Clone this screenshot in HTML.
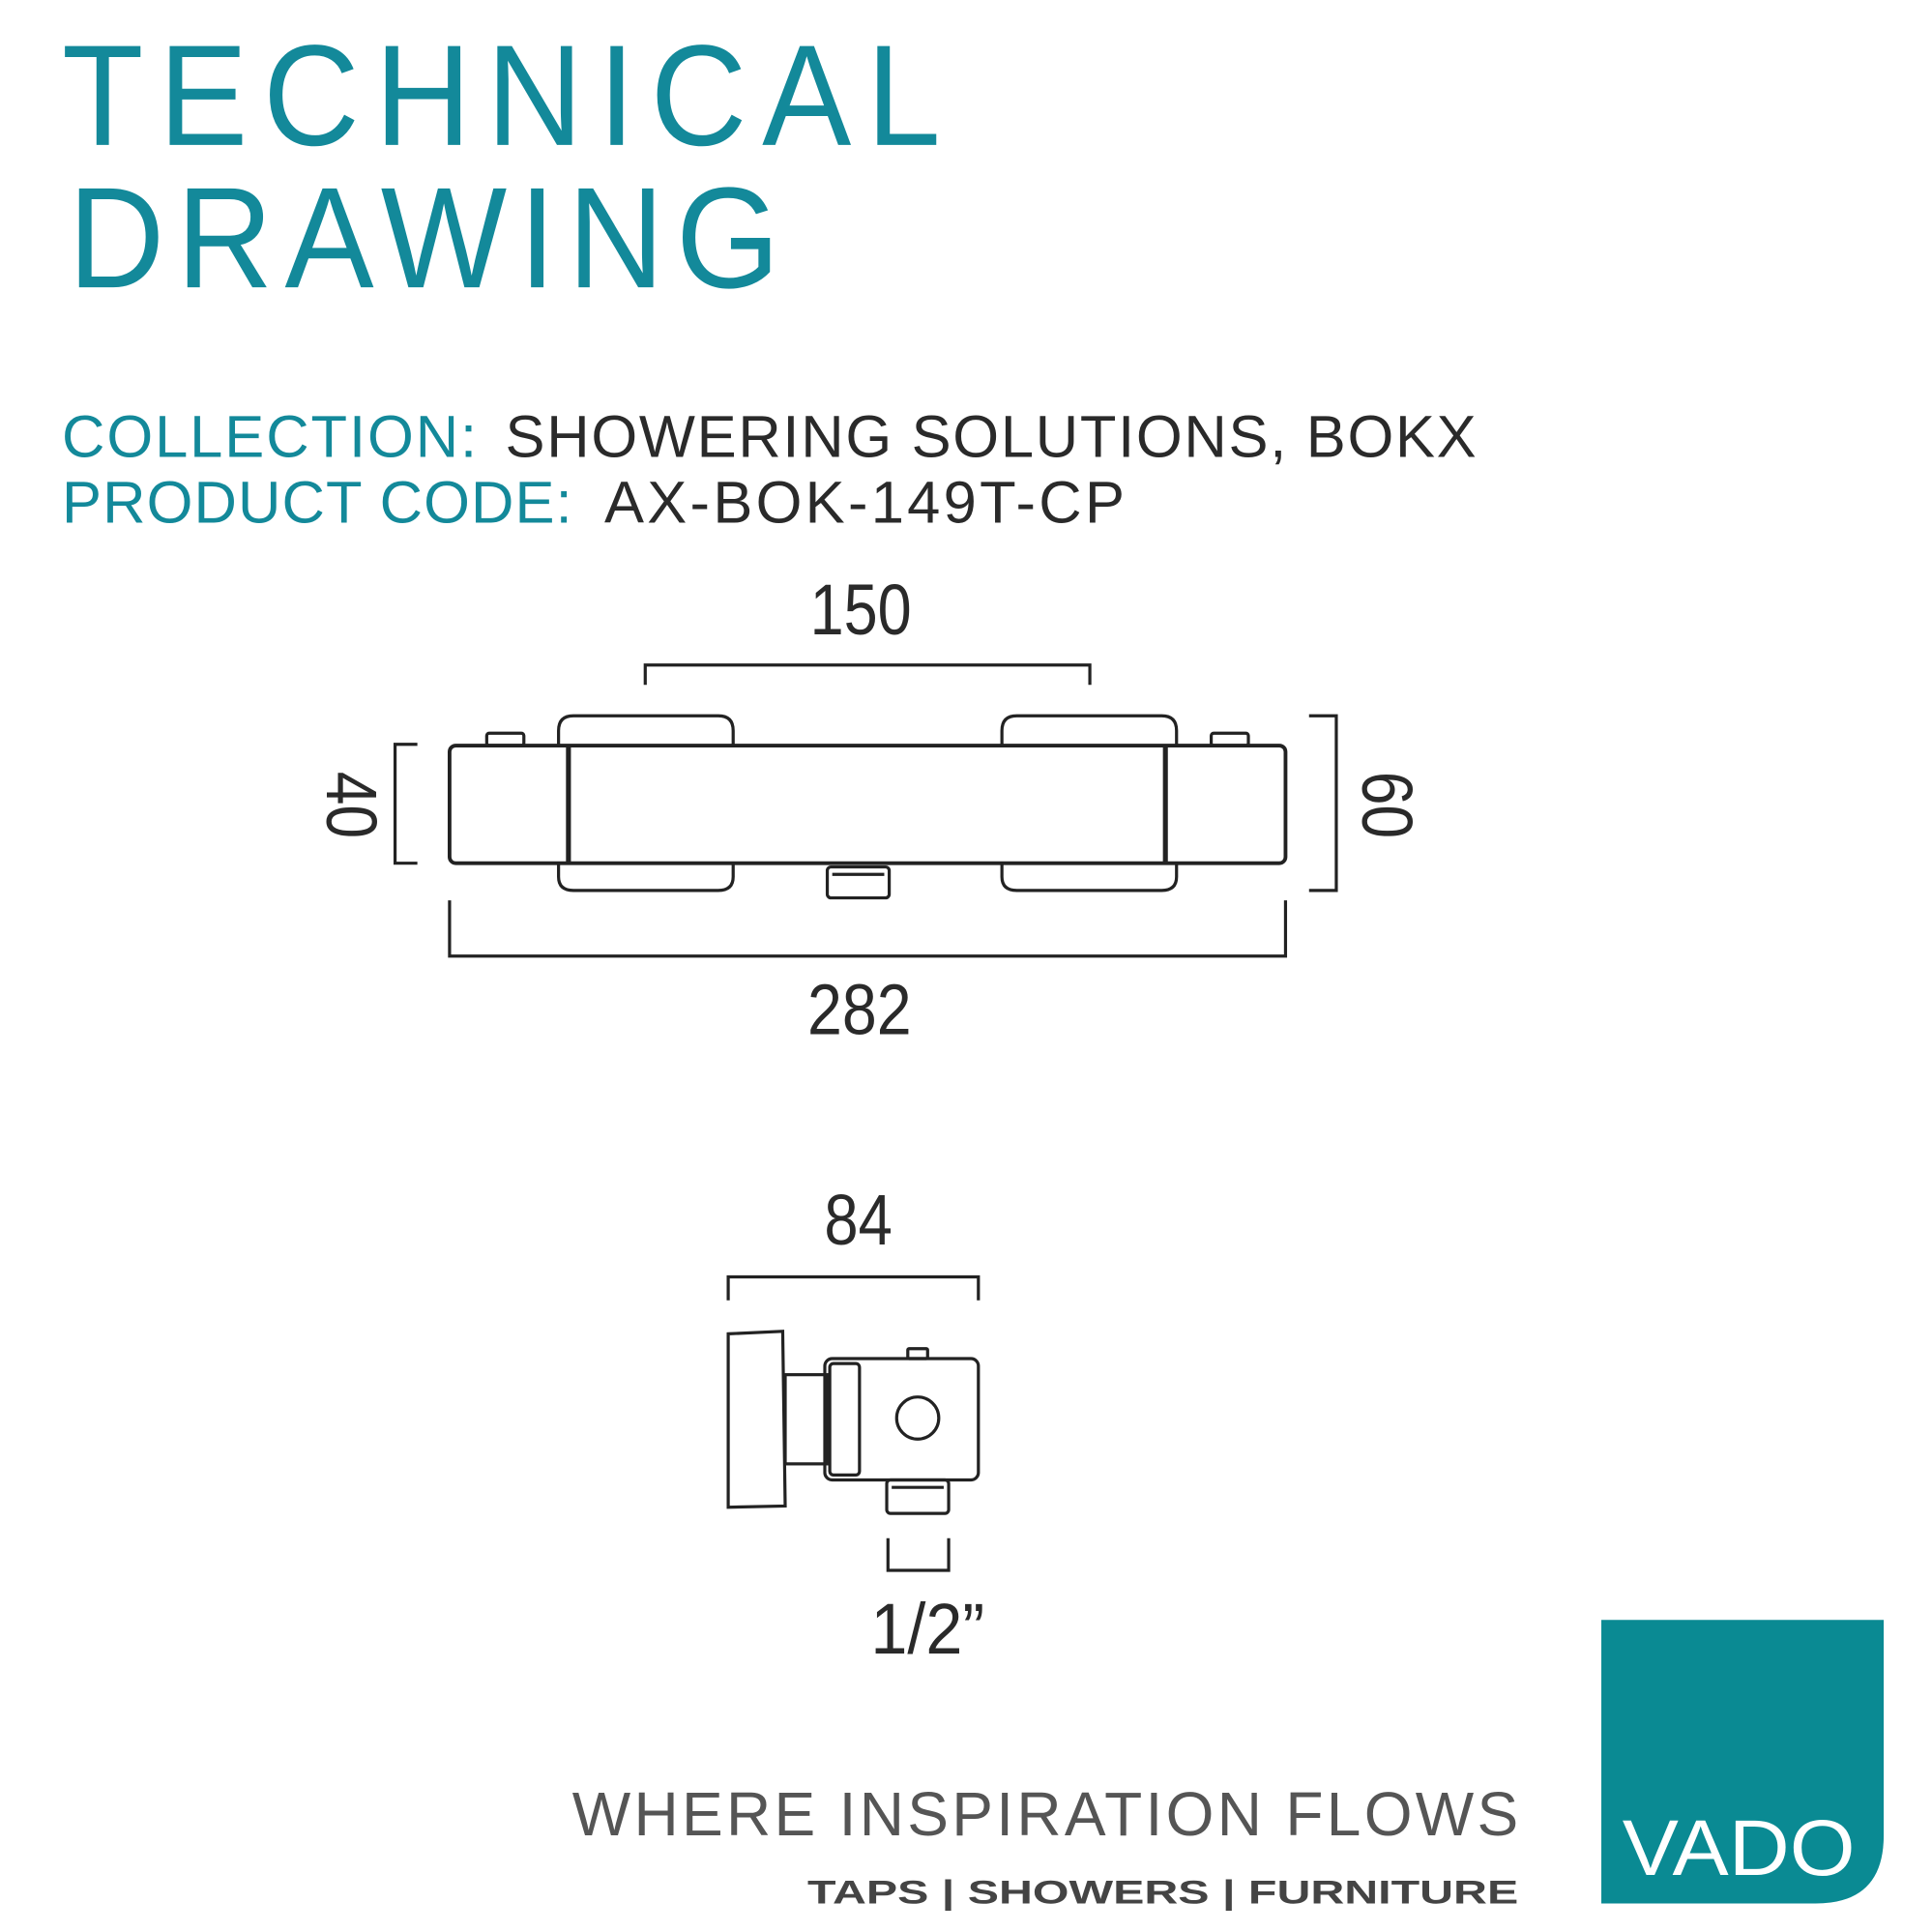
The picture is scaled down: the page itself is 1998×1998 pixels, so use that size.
<!DOCTYPE html>
<html><head><meta charset="utf-8"><style>
html,body{margin:0;padding:0;background:#fff;}
svg{display:block;}
text{font-family:"Liberation Sans",sans-serif;}
</style></head><body>
<svg width="1998" height="1998" viewBox="0 0 1560 1560" xmlns="http://www.w3.org/2000/svg">
<rect width="1560" height="1560" fill="#fff"/>
<g fill="#13899a">
<text x="50" y="117" font-size="116" textLength="763" lengthAdjust="spacing" transform="translate(50,0) scale(0.93,1) translate(-50,0)">TECHNICAL</text>
<text x="55" y="232" font-size="116" textLength="618" lengthAdjust="spacing" transform="translate(55,0) scale(0.93,1) translate(-55,0)">DRAWING</text>
<text x="50" y="369" font-size="48" textLength="335" lengthAdjust="spacing">COLLECTION:</text>
<text x="50" y="422" font-size="48" textLength="412" lengthAdjust="spacing">PRODUCT CODE:</text>
</g>
<g fill="#2a2a2a">
<text x="408" y="369" font-size="48" textLength="784" lengthAdjust="spacing">SHOWERING SOLUTIONS, BOKX</text>
<text x="488" y="422" font-size="48" textLength="420" lengthAdjust="spacing">AX-BOK-149T-CP</text>
</g>
<g fill="#2a2a2a" font-size="58" text-anchor="middle">
<text x="695" y="512" textLength="82" lengthAdjust="spacingAndGlyphs">150</text>
<text x="694" y="835" textLength="84" lengthAdjust="spacingAndGlyphs">282</text>
<text x="693" y="1005" textLength="55" lengthAdjust="spacingAndGlyphs">84</text>
<text x="749" y="1335" textLength="92" lengthAdjust="spacingAndGlyphs">1/2”</text>
<text transform="translate(264,650) rotate(90)" textLength="54" lengthAdjust="spacingAndGlyphs">40</text>
<text transform="translate(1100,650) rotate(90)" textLength="54" lengthAdjust="spacingAndGlyphs">60</text>
</g>
<g fill="none" stroke="#222" stroke-width="2.5">
<polyline points="521,553 521,537 880,537 880,553"/>
<path d="M451,602 V590 Q451,578 463,578 H580 Q592,578 592,590 V602"/>
<path d="M809,602 V590 Q809,578 821,578 H938 Q950,578 950,590 V602"/>
<path d="M451,697 V708 Q451,719 463,719 H580 Q592,719 592,708 V697"/>
<path d="M809,697 V708 Q809,719 821,719 H938 Q950,719 950,708 V697"/>
<rect x="393" y="592" width="30" height="10" rx="2"/>
<rect x="978" y="592" width="30" height="10" rx="2"/>
<rect x="668" y="700" width="50" height="25" rx="3"/>
<line x1="672" y1="706" x2="714" y2="706"/>
<rect x="363" y="602" width="675" height="95" rx="5" stroke-width="3"/>
<line x1="459" y1="602" x2="459" y2="697" stroke-width="4"/>
<line x1="941" y1="602" x2="941" y2="697" stroke-width="4"/>
<polyline points="337,601 319,601 319,697 337,697"/>
<polyline points="1057,578 1079,578 1079,719 1057,719"/>
<polyline points="363,727 363,772 1038,772 1038,727"/>
<polyline points="588,1050 588,1031 790,1031 790,1050"/>
<path d="M588,1077 L632,1075 L634,1216 L588,1217 Z"/>
<rect x="634" y="1110" width="34" height="72"/>
<rect x="666" y="1097" width="124" height="98" rx="6"/>
<rect x="670" y="1101" width="24" height="90" rx="3"/>
<rect x="733" y="1089" width="16" height="8" rx="1"/>
<circle cx="741" cy="1145" r="17"/>
<rect x="716" y="1195" width="50" height="27" rx="3"/>
<line x1="720" y1="1201" x2="762" y2="1201"/>
<polyline points="717,1242 717,1268 766,1268 766,1242"/>
</g>
<text x="462" y="1482" font-size="50" fill="#555" textLength="764" lengthAdjust="spacing">WHERE INSPIRATION FLOWS</text>
<text x="652" y="1537" font-size="27" font-weight="bold" fill="#444" textLength="574" lengthAdjust="spacingAndGlyphs">TAPS | SHOWERS | FURNITURE</text>
<path d="M1293,1308 H1521 V1482 Q1521,1537 1466,1537 H1293 Z" fill="#0a8a93"/>
<text x="1310" y="1514" font-size="64" fill="#fff" textLength="188" lengthAdjust="spacingAndGlyphs">VADO</text>
</svg>
</body></html>
